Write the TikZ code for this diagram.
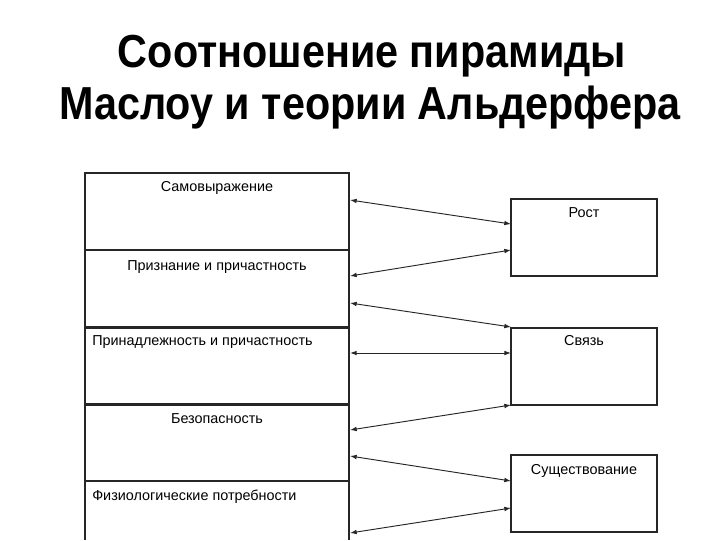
\documentclass[tikz,border=0pt]{standalone}
\usepackage{fontspec}
\setmainfont{Liberation Sans}
\usetikzlibrary{arrows.meta,calc}
\begin{document}
\begin{tikzpicture}[x=0.75pt,y=-0.75pt,
  cell/.style={draw=black!85,line width=0.8pt,rectangle,minimum width=264*0.75pt,minimum height=77*0.75pt,inner sep=0pt,outer sep=0pt,anchor=north west},
  rbox/.style={draw=black!85,line width=0.8pt,rectangle,minimum width=146*0.75pt,minimum height=77*0.75pt,inner sep=0pt,outer sep=0pt,anchor=north west},
  lbl/.style={font=\fontsize{10.8pt}{13pt}\selectfont,inner sep=0pt},
  link/.style={draw=black!85,line width=0.7pt,{Latex[length=5pt,width=3.5pt]}-{Latex[length=5pt,width=3.5pt]}},
  ttl/.style={font=\fontsize{31pt}{36pt}\selectfont\bfseries,inner sep=0pt,anchor=base}]
\useasboundingbox[fill=white] (0,0) rectangle (720,540);
% title
\node[ttl] (t1) at (372,67) {\scalebox{1}[1.12]{Соотношение пирамиды}};
\node[ttl] (t2) at (370,119) {\scalebox{1}[1.12]{Маслоу и теории Альдерфера}};
% left column
\node[cell] (l1) at (85,173) {};
\node[cell] (l2) at (85,250) {};
\node[cell] (l3) at (85,328) {};
\node[cell] (l4) at (85,404) {};
\coordinate (l5) at (85,481);
\draw[draw=black!85,line width=0.8pt] (85,540) -- (l5) -- (349,481) -- (349,540);
\node[lbl,anchor=base] at ($(l1.north)+(0,18)$) {Самовыражение};
\node[lbl,anchor=base] at ($(l2.north)+(0,20)$) {Признание и причастность};
\node[lbl,anchor=base west] at ($(l3.north west)+(7,17)$) {Принадлежность и причастность};
\node[lbl,anchor=base] at ($(l4.north)+(0,19)$) {Безопасность};
\node[lbl,anchor=base west] at ($(l5)+(7,19)$) {Физиологические потребности};
% right boxes
\node[rbox] (r1) at (511,199) {};
\node[rbox] (r2) at (511,328) {};
\node[rbox] (r3) at (511,455) {};
\node[lbl,anchor=base] at ($(r1.north)+(0,18)$) {Рост};
\node[lbl,anchor=base] at ($(r2.north)+(0,17)$) {Связь};
\node[lbl,anchor=base] at ($(r3.north)+(0,19)$) {Существование};
% links
\draw[link] ($(l1.north east)+(1,27)$) -- ($(r1.north west)+(0,25)$);
\draw[link] ($(l2.north east)+(1,26)$) -- ($(r1.north west)+(0,51)$);
\draw[link] ($(l2.north east)+(1,53)$) -- ($(r2.north west)+(0,-1)$);
\draw[link] ($(l3.north east)+(1,25)$) -- ($(r2.north west)+(0,25)$);
\draw[link] ($(l4.north east)+(1,26)$) -- (r2.south west);
\draw[link] ($(l4.north east)+(1,52)$) -- ($(r3.north west)+(0,26)$);
\draw[link] ($(l5)+(265,52)$) -- ($(r3.north west)+(0,53)$);
\end{tikzpicture}
\end{document}
